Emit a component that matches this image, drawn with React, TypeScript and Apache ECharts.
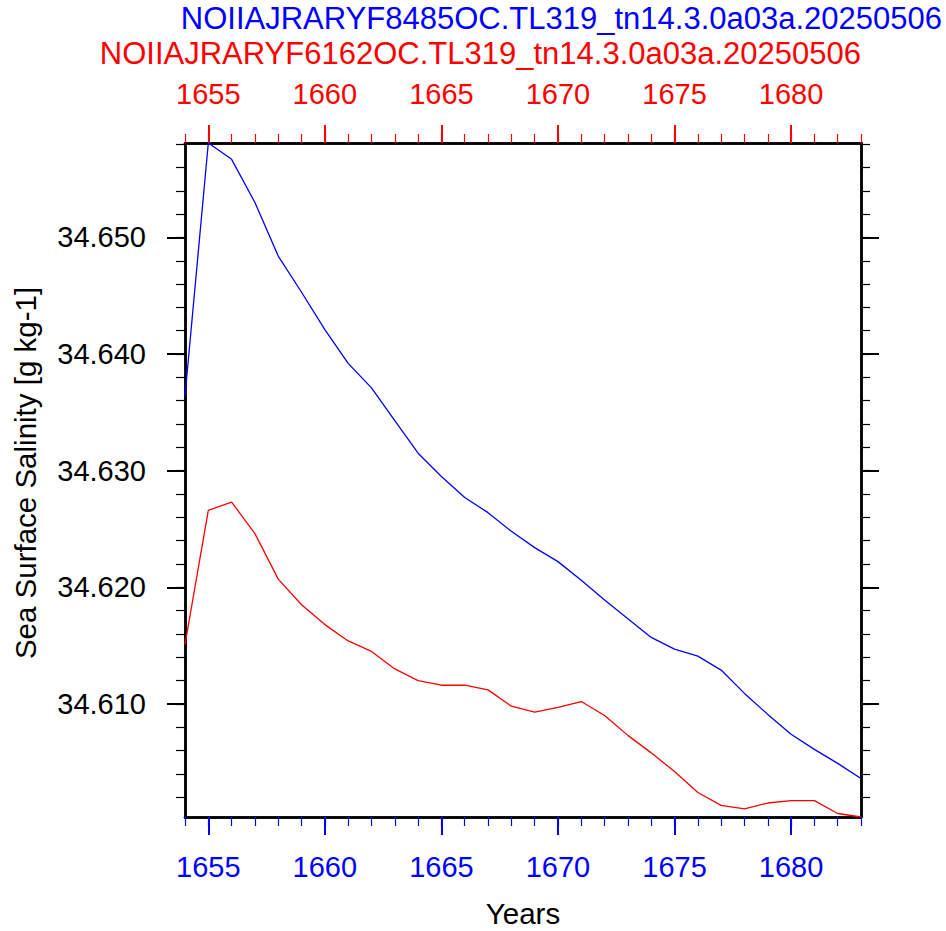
import React, { useEffect, useRef } from "react";
import * as echarts from "echarts";

// Annual-mean sea surface salinity for two runs
const years: number[] = [
  1654, 1655, 1656, 1657, 1658, 1659, 1660, 1661, 1662, 1663, 1664, 1665, 1666, 1667, 1668,
  1669, 1670, 1671, 1672, 1673, 1674, 1675, 1676, 1677, 1678, 1679, 1680, 1681, 1682, 1683,
];

const salinityF8485: number[] = [
  34.6364, 34.6581, 34.6567, 34.653, 34.6484, 34.6453, 34.6421, 34.6392, 34.6371, 34.6343,
  34.6315, 34.6295, 34.6277, 34.6264, 34.6248, 34.6234, 34.6222, 34.6206, 34.6189, 34.6173,
  34.6157, 34.6147, 34.6141, 34.6129, 34.6109, 34.6091, 34.6074, 34.6061, 34.6049, 34.6036,
];

const salinityF6162: number[] = [
  34.6151, 34.6266, 34.6273, 34.6246, 34.6207, 34.6185, 34.6168, 34.6154, 34.6145, 34.613,
  34.612, 34.6116, 34.6116, 34.6112, 34.6098, 34.6093, 34.6097, 34.6102, 34.609, 34.6073,
  34.6058, 34.6042, 34.6024, 34.6013, 34.601, 34.6015, 34.6017, 34.6017, 34.6006, 34.6003,
];

const yearMajorTicks: number[] = [1655, 1660, 1665, 1670, 1675, 1680];
const salinityMajorTicks: number[] = [34.61, 34.62, 34.63, 34.64, 34.65];
const salinityMinorTicks: number[] = [
  34.602, 34.604, 34.606, 34.608, 34.61, 34.612, 34.614, 34.616, 34.618, 34.62, 34.622, 34.624,
  34.626, 34.628, 34.63, 34.632, 34.634, 34.636, 34.638, 34.64, 34.642, 34.644, 34.646, 34.648,
  34.65, 34.652, 34.654, 34.656, 34.658,
];

const titleF8485 = "NOIIAJRARYF8485OC.TL319_tn14.3.0a03a.20250506";
const titleF6162 = "NOIIAJRARYF6162OC.TL319_tn14.3.0a03a.20250506";
const yTitle = "Sea Surface Salinity [g kg-1]";
const xTitle = "Years";

const BLUE = "#0000ff";
const RED = "#ff0000";
const FONT = "'Liberation Sans', Arial, Helvetica, sans-serif";

export default function App() {
  const ref = useRef<HTMLDivElement>(null);

  useEffect(() => {
    if (!ref.current) return;
    const chart = echarts.init(ref.current, undefined, { renderer: "svg" });

    const all = [...salinityF8485, ...salinityF6162];
    const yMin = Math.min(...all);
    const yMax = Math.max(...all);
    const xMin = years[0];
    const xMax = years[years.length - 1];

    const xBase = (position: "top" | "bottom", major: boolean, color: string) => ({
      type: "value" as const,
      position,
      min: xMin,
      max: xMax,
      axisLine: { show: true, onZero: false, lineStyle: { color: "#000", width: 2.5 } },
      axisTick: {
        show: true,
        inside: false,
        length: major ? 18 : 9,
        lineStyle: { color, width: major ? 2 : 1.2 },
        customValues: major ? yearMajorTicks : years,
      },
      axisLabel: {
        show: major,
        color,
        fontFamily: FONT,
        fontSize: 29,
        margin: position === "bottom" ? 35 : 35,
        customValues: yearMajorTicks,
        formatter: (v: number) => String(v),
      },
      splitLine: { show: false },
    });

    const yBase = (position: "left" | "right", major: boolean) => ({
      type: "value" as const,
      position,
      min: yMin,
      max: yMax,
      axisLine: { show: true, onZero: false, lineStyle: { color: "#000", width: 2.5 } },
      axisTick: {
        show: true,
        inside: false,
        length: major ? 18 : 9,
        lineStyle: { color: "#000", width: major ? 2 : 1.2 },
        customValues: major ? salinityMajorTicks : salinityMinorTicks,
      },
      axisLabel: {
        show: major && position === "left",
        color: "#000",
        fontFamily: FONT,
        fontSize: 29,
        margin: 39,
        customValues: salinityMajorTicks,
        formatter: (v: number) => v.toFixed(3),
      },
      splitLine: { show: false },
    });

    chart.setOption({
      animation: false,
      backgroundColor: "#fff",
      grid: { left: 185, right: 85, top: 143, bottom: 114, containLabel: false },
      xAxis: [
        xBase("bottom", true, BLUE),
        xBase("bottom", false, BLUE),
        xBase("top", true, RED),
        xBase("top", false, RED),
      ],
      yAxis: [yBase("left", true), yBase("left", false), yBase("right", true), yBase("right", false)],
      series: [
        {
          type: "line",
          name: titleF8485,
          xAxisIndex: 0,
          yAxisIndex: 0,
          data: years.map((y, i) => [y, salinityF8485[i]]),
          showSymbol: false,
          lineStyle: { color: BLUE, width: 1.3 },
          clip: true,
        },
        {
          type: "line",
          name: titleF6162,
          xAxisIndex: 0,
          yAxisIndex: 0,
          data: years.map((y, i) => [y, salinityF6162[i]]),
          showSymbol: false,
          lineStyle: { color: RED, width: 1.3 },
          clip: true,
        },
      ],
      graphic: [
        {
          type: "text",
          x: 942,
          y: 18,
          style: {
            text: titleF8485,
            fill: BLUE,
            font: `31px ${FONT}`,
            align: "right",
            verticalAlign: "middle",
          },
        },
        {
          type: "text",
          x: 861,
          y: 53,
          style: {
            text: titleF6162,
            fill: RED,
            font: `31px ${FONT}`,
            align: "right",
            verticalAlign: "middle",
          },
        },
        {
          type: "text",
          x: 25,
          y: 473,
          rotation: Math.PI / 2,
          style: {
            text: yTitle,
            fill: "#000",
            font: `29.5px ${FONT}`,
            align: "center",
            verticalAlign: "middle",
          },
        },
        {
          type: "text",
          x: 523,
          y: 913,
          style: {
            text: xTitle,
            fill: "#000",
            font: `29.5px ${FONT}`,
            align: "center",
            verticalAlign: "middle",
          },
        },
      ],
    });

    return () => chart.dispose();
  }, []);

  return (
    <div
      ref={ref}
      style={{ position: "absolute", left: 0, top: 0, width: 946, height: 931 }}
    />
  );
}
